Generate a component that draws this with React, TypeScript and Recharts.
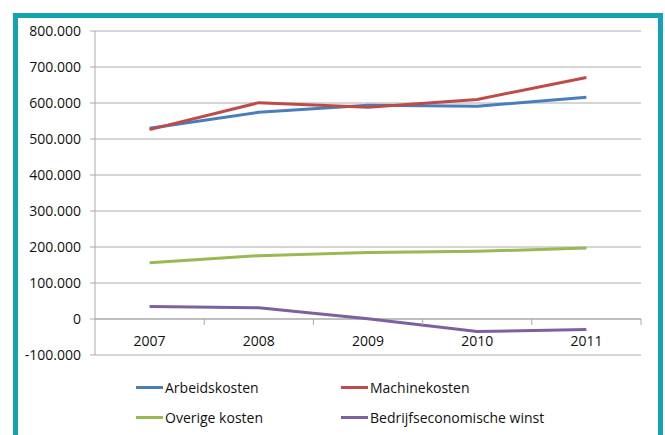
import { CartesianGrid, Legend, Line, LineChart, ReferenceLine, XAxis, YAxis } from "recharts"

const years = ["2007", "2008", "2009", "2010", "2011"]
const arbeidskosten = [530000, 574000, 594000, 591000, 616000]
const machinekosten = [526000, 601000, 588000, 610000, 671000]
const overigeKosten = [156000, 176000, 185000, 188000, 197000]
const winst = [35000, 31000, 1000, -35000, -29000]
const yTicks = [-100000, 0, 100000, 200000, 300000, 400000, 500000, 600000, 700000, 800000]
const legendOrder = ["Arbeidskosten", "Machinekosten", "Overige kosten", "Bedrijfseconomische winst"]

const data = years.map((year, i) => ({
  year,
  arbeid: arbeidskosten[i],
  machine: machinekosten[i],
  overig: overigeKosten[i],
  winst: winst[i],
}))

const FONT = "'Open Sans', sans-serif"
const GRID = "#ababab"
const TEXT = "#111"
const BAND = 546 / years.length

function fmt(v: number) {
  const s = Math.abs(v)
    .toString()
    .replace(/\B(?=(\d{3})+(?!\d))/g, ".")
  return (v < 0 ? "-" : "") + s
}

function YearTick(props: any) {
  const { x, payload } = props
  const right = x + BAND / 2
  return (
    <g>
      <line x1={right} x2={right} y1={319} y2={325} stroke={GRID} />
      <text x={x} y={346} textAnchor="middle" fontSize={14} fontFamily={FONT} fill={TEXT}>
        {payload.value}
      </text>
    </g>
  )
}

function LegendBox(props: any) {
  const items = [...(props.payload || [])].sort(
    (a: any, b: any) => legendOrder.indexOf(a.value) - legendOrder.indexOf(b.value)
  )
  return (
    <div style={{ display: "grid", gridTemplateColumns: "205px 220px", rowGap: 11, fontFamily: FONT, fontSize: 14, color: TEXT }}>
      {items.map((it: any) => (
        <div key={it.value} style={{ display: "flex", alignItems: "center", height: 19 }}>
          <span style={{ display: "inline-block", width: 27, height: 3, background: it.color, marginRight: 2 }} />
          <span>{it.value}</span>
        </div>
      ))}
    </div>
  )
}

export default function App() {
  return (
    <div style={{ position: "absolute", left: 0, top: 0, width: 665, height: 435, background: "#fff", overflow: "hidden" }}>
      <div
        style={{
          position: "absolute",
          left: 13,
          top: 13,
          width: 640,
          height: 440,
          border: "5px solid #13a3b3",
        }}
      />
      <div style={{ position: "absolute", left: 0, top: 0 }}>
        <LineChart width={665} height={435} data={data} margin={{ top: 31, right: 24, left: 0, bottom: 50 }}>
          <CartesianGrid vertical={false} stroke={GRID} strokeWidth={1} />
          <XAxis
            dataKey="year"
            height={30}
            axisLine={false}
            tickLine={false}
            tick={<YearTick />}
            interval={0}
            padding={{ left: BAND / 2, right: BAND / 2 }}
          />
          <YAxis
            width={95}
            domain={[-100000, 800000]}
            ticks={yTicks}
            tickFormatter={fmt}
            stroke={GRID}
            tickSize={5}
            tickMargin={9}
            tick={{ fontSize: 14, fontFamily: FONT, fill: TEXT }}
            interval={0}
          />
          <ReferenceLine y={0} stroke={GRID} />
          <Legend
            layout="horizontal"
            verticalAlign="middle"
            align="center"
            wrapperStyle={{ top: 378, left: 136, width: 430 }}
            content={<LegendBox />}
          />
          <Line dataKey="arbeid" name="Arbeidskosten" stroke="#4a7ebb" strokeWidth={3} dot={false} isAnimationActive={false} />
          <Line dataKey="machine" name="Machinekosten" stroke="#be4b48" strokeWidth={3} dot={false} isAnimationActive={false} />
          <Line dataKey="overig" name="Overige kosten" stroke="#98b954" strokeWidth={3} dot={false} isAnimationActive={false} />
          <Line dataKey="winst" name="Bedrijfseconomische winst" stroke="#7d60a0" strokeWidth={3} dot={false} isAnimationActive={false} />
        </LineChart>
      </div>
    </div>
  )
}
